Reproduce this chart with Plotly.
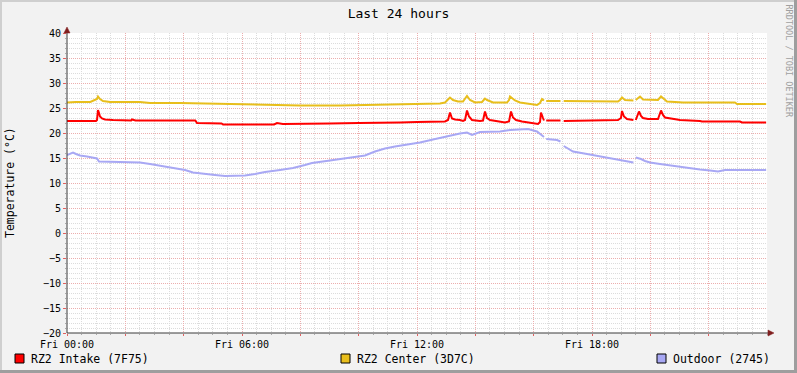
import plotly.graph_objects as go

# ---------------- data (hours since Fri 00:00, temperature in °C) ----------------
intake = [(0, 22.4), (0.994, 22.4), (1.029, 22.6), (1.063, 24.6), (1.097, 24.0), (1.131, 23.3),
          (1.2, 22.9), (1.303, 22.7), (1.577, 22.6), (2.2, 22.5), (2.229, 22.7), (2.35, 22.5),
          (4.4, 22.5), (4.457, 22.0), (5.3, 21.9), (5.349, 21.7), (7.1, 21.7), (7.2, 22.0),
          (7.4, 21.8), (8.331, 21.8), (9.0, 21.9), (10.0, 22.0), (11.0, 22.0), (11.417, 22.1),
          (12.0, 22.2), (12.96, 22.3), (13.063, 22.6), (13.131, 24.1), (13.2, 22.9), (13.303, 22.7),
          (13.474, 22.6), (13.577, 22.4), (13.646, 22.6), (13.714, 24.5), (13.783, 23.3),
          (13.886, 22.6), (14.16, 22.4), (14.263, 22.5), (14.331, 24.3), (14.4, 23.0),
          (14.503, 22.6), (14.674, 22.4), (14.846, 22.2), (15.017, 22.1), (15.154, 22.3),
          (15.223, 24.3), (15.291, 23.1), (15.394, 22.6), (15.6, 22.3), (15.874, 22.1),
          (16.046, 21.9), (16.149, 21.8), (16.217, 22.2), (16.251, 24.1), (16.32, 23.0),
          (16.354, 22.5), (16.39, None), (16.43, 22.5), (16.92, 22.5), (16.96, None),
          (17.03, 22.4), (18.274, 22.5), (18.617, 22.6), (18.891, 22.6), (18.994, 23.0),
          (19.029, 24.4), (19.097, 23.3), (19.2, 22.8), (19.42, 22.6), (19.45, None),
          (19.5, 22.6), (19.611, 24.3), (19.68, 23.4), (19.749, 23.0), (19.92, 22.8),
          (20.16, 22.7), (20.263, 22.8), (20.366, 24.5), (20.434, 23.6), (20.503, 23.1),
          (20.743, 22.9), (21.017, 22.6), (21.703, 22.4), (21.771, 22.3), (23.074, 22.3),
          (23.143, 22.1), (23.97, 22.1)]

center = [(0, 26.1), (0.3, 26.2), (0.8, 26.2), (0.9, 26.4), (1.029, 26.8), (1.063, 27.3),
          (1.131, 26.8), (1.234, 26.4), (1.474, 26.2), (2.5, 26.2), (2.846, 26.0), (3.874, 26.0),
          (4.56, 25.9), (5.931, 25.7), (6.617, 25.6), (7.989, 25.5), (9.36, 25.5), (10.731, 25.6),
          (11.417, 25.8), (12.789, 25.9), (12.96, 26.1), (13.063, 26.6), (13.131, 27.1),
          (13.234, 26.6), (13.406, 26.3), (13.577, 26.3), (13.646, 26.8), (13.714, 27.4),
          (13.817, 26.6), (13.989, 26.1), (14.229, 26.2), (14.331, 26.9), (14.4, 26.6),
          (14.606, 26.1), (15.086, 26.1), (15.154, 26.6), (15.189, 27.3), (15.36, 26.5),
          (15.531, 26.1), (15.874, 25.8), (16.114, 25.6), (16.217, 26.0), (16.286, 26.8),
          (16.354, 26.5), (16.39, None), (16.43, 26.4), (16.92, 26.4), (16.96, None),
          (17.03, 26.4), (18.274, 26.3), (18.891, 26.3), (18.96, 26.6), (19.029, 27.1),
          (19.131, 26.6), (19.303, 26.5), (19.42, 26.5), (19.45, None), (19.5, 26.6),
          (19.646, 27.3), (19.749, 26.7), (19.989, 26.6), (20.263, 26.6), (20.366, 27.3),
          (20.469, 26.8), (20.571, 26.3), (21.12, 26.1), (22.7, 26.1), (22.8, 26.2),
          (22.9, 26.1), (22.971, 25.8), (23.97, 25.8)]

outdoor = [(0, 15.6), (0.103, 15.9), (0.206, 16.1), (0.309, 15.8), (0.446, 15.5), (0.686, 15.3),
           (0.891, 15.1), (1.029, 14.9), (1.097, 14.3), (1.817, 14.2), (2.503, 14.1), (2.846, 13.8),
           (3.12, 13.5), (3.36, 13.2), (3.703, 12.9), (4.046, 12.6), (4.32, 12.1), (4.731, 11.9),
           (5.074, 11.6), (5.417, 11.4), (6.103, 11.5), (6.446, 11.8), (6.789, 12.2), (7.303, 12.6),
           (7.749, 13.0), (8.16, 13.6), (8.4, 14.0), (9.017, 14.5), (9.703, 15.0), (10.217, 15.5),
           (10.56, 16.3), (10.903, 16.9), (11.246, 17.3), (11.589, 17.6), (12.103, 18.1),
           (12.549, 18.7), (13.131, 19.5), (13.474, 19.9), (13.714, 20.1), (13.886, 19.6),
           (14.16, 20.2), (14.846, 20.3), (15.189, 20.6), (15.806, 20.8), (16.114, 20.3),
           (16.286, 19.6), (16.354, 19.2), (16.39, None), (16.43, 18.8), (16.8, 18.6),
           (16.92, 18.3), (16.96, None), (17.03, 17.4), (17.349, 16.3), (17.829, 15.8),
           (18.514, 15.1), (19.234, 14.3), (19.42, 14.1), (19.45, None), (19.5, 15.1),
           (19.68, 14.8), (19.817, 14.4), (19.989, 14.1), (20.331, 13.8), (20.674, 13.5),
           (21.017, 13.2), (21.36, 13.0), (21.703, 12.7), (22.046, 12.5), (22.32, 12.3),
           (22.56, 12.6), (23.97, 12.6)]

series_names = ["RZ2 Intake (7F75)", "RZ2 Center (3D7C)", "Outdoor (2745)"]
series_colors = ["#FF0000", "#E8BE1C", "#A8A8F4"]

x_tick_hours = [0, 2, 4, 6, 8, 10, 12, 14, 16, 18, 20, 22]
x_tick_labels = ["Fri 00:00", "", "", "Fri 06:00", "", "", "Fri 12:00", "", "", "Fri 18:00", "", ""]
y_ticks = [-20, -15, -10, -5, 0, 5, 10, 15, 20, 25, 30, 35, 40]

FONT = "DejaVu Sans Mono"
MGRID = "#ECAEAE"
GRID = "#DCDCDC"

fig = go.Figure()
for data, name, col in zip([intake, center, outdoor], series_names, series_colors):
    fig.add_trace(go.Scatter(
        x=[p[0] for p in data], y=[p[1] for p in data], mode="lines", name=name,
        line=dict(color=col, width=2), connectgaps=False, showlegend=False, hoverinfo="skip"))

# pixel helpers for decorations (plot area: x 67..767, y 33..333)
def px(x):
    return (x - 67) / 700.0

def py(y):
    return (333 - y) / 300.0

shapes = []
# 3D frame of the canvas
shapes.append(dict(type="rect", xref="paper", yref="paper", x0=px(0), x1=px(797), y0=py(0), y1=py(2),
                   fillcolor="#CFCFCF", line=dict(width=0)))
shapes.append(dict(type="rect", xref="paper", yref="paper", x0=px(0), x1=px(2), y0=py(0), y1=py(373),
                   fillcolor="#CFCFCF", line=dict(width=0)))
shapes.append(dict(type="rect", xref="paper", yref="paper", x0=px(0), x1=px(797), y0=py(370), y1=py(373),
                   fillcolor="#9E9E9E", line=dict(width=0)))
shapes.append(dict(type="rect", xref="paper", yref="paper", x0=px(794), x1=px(797), y0=py(0), y1=py(373),
                   fillcolor="#9E9E9E", line=dict(width=0)))
# axes
shapes.append(dict(type="line", xref="paper", yref="paper", x0=0, x1=px(770), y0=0, y1=0,
                   line=dict(color="#3A3A3A", width=1)))
shapes.append(dict(type="line", xref="paper", yref="paper", x0=0, x1=0, y0=0, y1=py(30),
                   line=dict(color="#3A3A3A", width=1)))
# arrows
shapes.append(dict(type="path", xref="paper", yref="paper",
                   path=f"M {px(67)} {py(27)} L {px(64)} {py(33)} L {px(70)} {py(33)} Z",
                   fillcolor="#801F1F", line=dict(color="#801F1F", width=0.5)))
shapes.append(dict(type="path", xref="paper", yref="paper",
                   path=f"M {px(774)} {py(333)} L {px(768)} {py(330)} L {px(768)} {py(336)} Z",
                   fillcolor="#801F1F", line=dict(color="#801F1F", width=0.5)))

annotations = []
legend_sq = [15, 341, 657]
legend_tx = [29, 355, 671]
for name, col, sx, tx in zip(series_names, series_colors, legend_sq, legend_tx):
    shapes.append(dict(type="rect", xref="paper", yref="paper", x0=px(sx), x1=px(sx + 9),
                       y0=py(363), y1=py(354), fillcolor=col, line=dict(color="black", width=1)))
    annotations.append(dict(text=name, xref="paper", yref="paper", x=px(tx), y=py(358.5),
                            xanchor="left", yanchor="middle", showarrow=False,
                            font=dict(family=FONT, size=11.5, color="black")))

annotations.append(dict(text="Temperature (°C)", xref="paper", yref="paper", x=px(10), y=py(183),
                        xanchor="center", yanchor="middle", textangle=-90, showarrow=False,
                        font=dict(family=FONT, size=11.5, color="black")))
annotations.append(dict(text="RRDTOOL / TOBI OETIKER", xref="paper", yref="paper", x=px(788.5), y=py(61),
                        xanchor="center", yanchor="middle", textangle=90, showarrow=False,
                        font=dict(family=FONT, size=8.5, color="#A0A0A0")))

fig.update_layout(
    width=797, height=373,
    margin=dict(l=67, r=30, t=33, b=40, pad=0),
    paper_bgcolor="#F2F2F2", plot_bgcolor="#FFFFFF",
    title=dict(text="Last 24 hours", x=0.5, xanchor="center", y=1 - 13.5 / 373, yanchor="middle",
               font=dict(family=FONT, size=13, color="black")),
    shapes=shapes, annotations=annotations, showlegend=False, hovermode=False,
    xaxis=dict(range=[0, 24], tickmode="array", tickvals=x_tick_hours, ticktext=x_tick_labels,
               showgrid=True, gridcolor=MGRID, griddash="1px,1px", gridwidth=1,
               ticks="outside", ticklen=2, tickcolor="#E06060", zeroline=False, showline=False,
               tickfont=dict(family=FONT, size=10, color="black"), fixedrange=True,
               minor=dict(dtick=0.5, tick0=0, showgrid=True, gridcolor=GRID, griddash="1px,1px",
                          ticks="outside", ticklen=1, tickcolor="#AAAAAA")),
    yaxis=dict(range=[-20, 40], tickmode="array", tickvals=y_ticks,
               showgrid=True, gridcolor=MGRID, griddash="1px,1px", gridwidth=1,
               ticks="outside", ticklen=3, tickcolor="#E06060", zeroline=False, showline=False,
               tickfont=dict(family=FONT, size=10, color="black"), fixedrange=True,
               minor=dict(dtick=1, tick0=0, showgrid=True, gridcolor=GRID, griddash="1px,1px",
                          ticks="outside", ticklen=1, tickcolor="#AAAAAA")),
)

fig.write_html("out.html", config={"displayModeBar": False, "staticPlot": True},
               post_script="document.body.style.margin='0';document.body.style.overflow='hidden';")
